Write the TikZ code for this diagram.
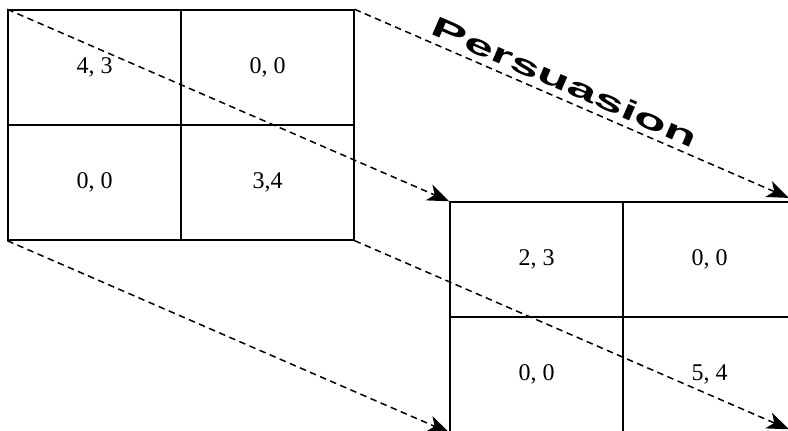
\documentclass[tikz,border=0pt]{standalone}
\usepackage{fontspec}
\setmainfont{Liberation Serif}
\newfontfamily\labelfont{Liberation Sans}
\usetikzlibrary{arrows.meta}
\begin{document}
\begin{tikzpicture}[x=1pt,y=-1pt,
  cell/.style={draw,line width=1.4pt,minimum width=173pt,minimum height=115pt,inner sep=0pt,font=\fontsize{24}{28}\selectfont},
  proj/.style={line width=1.5pt,dash pattern=on 6.5pt off 4.5pt,-{Stealth[length=22pt,width=17pt,inset=6pt]}}]
\useasboundingbox (0,0) rectangle (788,431);
\clip (0,0) rectangle (788,431);
% left game
\node[cell] (a11) at (94.5,67.5) {4, 3};
\node[cell] (a12) at (267.5,67.5) {0, 0};
\node[cell] (a21) at (94.5,182.5) {0, 0};
\node[cell] (a22) at (267.5,182.5) {3,4};
% right game
\node[cell] (b11) at (536.5,259.5) {2, 3};
\node[cell] (b12) at (709.5,259.5) {0, 0};
\node[cell] (b21) at (536.5,374.5) {0, 0};
\node[cell] (b22) at (709.5,374.5) {5, 4};
% projection arrows
\draw[proj] (a11.north west) -- (b11.north west);
\draw[proj,shorten >=8.5pt] (a12.north east) -- (b12.north east);
\draw[proj] (a21.south west) -- (b21.south west);
\draw[proj,shorten >=8.5pt] (a22.south east) -- (b22.south east);
\node[anchor=base,rotate=-23.48,inner sep=0pt] (lbl) at (561,91)
  {\labelfont\bfseries\fontsize{28}{32}\selectfont\scalebox{1.9}[1]{Persuasion}};
\end{tikzpicture}
\end{document}
